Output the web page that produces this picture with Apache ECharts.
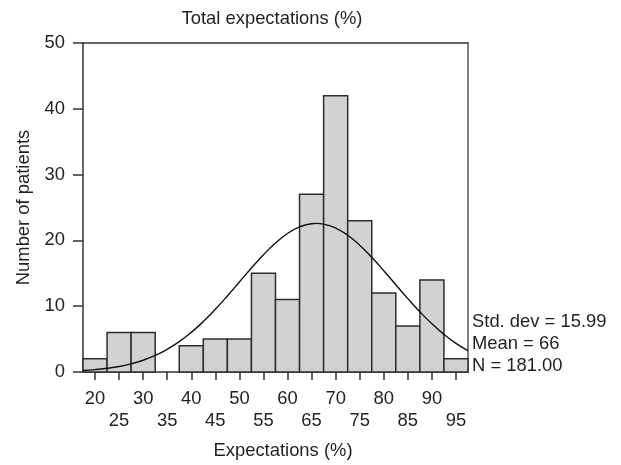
<!DOCTYPE html>
<html>
<head>
<meta charset="utf-8">
<script src="https://cdn.jsdelivr.net/npm/echarts@6/dist/echarts.min.js"></script>
<style>html,body{margin:0;padding:0;background:#fff}#c{width:621px;height:465px}</style>
</head>
<body>
<div id="c"></div>
<script>
// Histogram bins (centres, width 5) and counts
var binCenters = [20, 25, 30, 35, 40, 45, 50, 55, 60, 65, 70, 75, 80, 85, 90, 95];
var binCounts  = [2, 6, 6, 0, 4, 5, 5, 15, 11, 27, 42, 23, 12, 7, 14, 2];
var binWidth = 5;
// Fitted normal curve
var curveX = [17.5, 20, 22.5, 25, 27.5, 30, 32.5, 35, 37.5, 40, 42.5, 45, 47.5, 50, 52.5, 55, 57.5, 60, 62.5, 65, 66, 67.5, 70, 72.5, 75, 77.5, 80, 82.5, 85, 87.5, 90, 92.5, 95, 97.5];
var curveY = [0.23, 0.36, 0.56, 0.84, 1.24, 1.79, 2.52, 3.45, 4.61, 6.02, 7.67, 9.53, 11.56, 13.69, 15.81, 17.82, 19.6, 21.05, 22.05, 22.54, 22.58, 22.48, 21.88, 20.79, 19.27, 17.43, 15.39, 13.26, 11.15, 9.15, 7.32, 5.72, 4.36, 3.25];
var xTicks = [20, 25, 30, 35, 40, 45, 50, 55, 60, 65, 70, 75, 80, 85, 90, 95];
var statsLines = ['Std. dev = 15.99', 'Mean = 66', 'N = 181.00'];
var titleText = 'Total expectations (%)';
var xName = 'Expectations (%)';
var yName = 'Number of patients';

var FONT = 'Liberation Sans, Arial, Helvetica, sans-serif';
var FS = 18.4;
var TXT = '#231f20';
var LINE = '#333333';

var chart = echarts.init(document.getElementById('c'), null, {renderer: 'canvas'});
var histData = binCenters.map(function (c, i) { return [c, binCounts[i]]; });
var curveData = curveX.map(function (x, i) { return [x, curveY[i]]; });

var option = {
  animation: false,
  backgroundColor: '#fff',
  title: {
    text: titleText, left: 267, top: 5, textAlign: 'center',
    textStyle: {fontFamily: FONT, fontSize: FS, fontWeight: 'normal', color: TXT}
  },
  grid: {left: 83, right: 153, top: 43, bottom: 90},
  xAxis: [{
    type: 'value', min: 17.5, max: 97.5,
    name: xName, nameLocation: 'middle', nameGap: 70,
    nameTextStyle: {fontFamily: FONT, fontSize: FS, color: TXT, padding: [0, 0, 0, 15]},
    splitLine: {show: false},
    axisLine: {show: true, onZero: false, lineStyle: {color: LINE, width: 1.5}},
    axisTick: {show: true, inside: false, length: 8, customValues: xTicks, lineStyle: {color: LINE, width: 1.5}},
    axisLabel: {
      customValues: xTicks, margin: 16, fontFamily: FONT, fontSize: FS, color: TXT, lineHeight: 22,
      formatter: function (v) { return (v % 10 === 0) ? String(v) : '\n' + v; }
    }
  }, {
    type: 'value', min: 17.5, max: 97.5, position: 'top',
    axisLine: {show: true, onZero: false, lineStyle: {color: LINE, width: 1.5}},
    axisTick: {show: false}, axisLabel: {show: false}, splitLine: {show: false}
  }],
  yAxis: [{
    type: 'value', min: 0, max: 50, interval: 10,
    name: yName, nameLocation: 'middle', nameGap: 50,
    nameTextStyle: {fontFamily: FONT, fontSize: FS, color: TXT},
    splitLine: {show: false},
    axisLine: {show: true, onZero: false, lineStyle: {color: LINE, width: 1.5}},
    axisTick: {show: true, inside: false, length: 10, lineStyle: {color: LINE, width: 1.5}},
    axisLabel: {margin: 18, fontFamily: FONT, fontSize: FS, color: TXT}
  }, {
    type: 'value', min: 0, max: 50, position: 'right',
    axisLine: {show: true, onZero: false, lineStyle: {color: '#555', width: 1.5}},
    axisTick: {show: false}, axisLabel: {show: false}, splitLine: {show: false}
  }],
  series: [{
    type: 'custom',
    xAxisIndex: 0, yAxisIndex: 0,
    data: histData,
    renderItem: function (params, api) {
      var c = api.value(0), v = api.value(1);
      if (!v) return null;
      var p0 = api.coord([c - binWidth / 2, v]);
      var p1 = api.coord([c + binWidth / 2, 0]);
      return {
        type: 'rect',
        shape: {x: p0[0], y: p0[1], width: p1[0] - p0[0], height: p1[1] - p0[1]},
        style: {fill: '#d1d2d4', stroke: '#2e2e2e', lineWidth: 1.5}
      };
    },
    z: 2
  }, {
    type: 'line',
    xAxisIndex: 0, yAxisIndex: 0,
    data: curveData,
    smooth: true, showSymbol: false, symbol: 'none',
    lineStyle: {color: '#111', width: 1.4},
    z: 3
  }],
  graphic: statsLines.map(function (t, i) {
    return {
      type: 'text', left: 472, top: 313 + i * 22,
      style: {text: t, font: FS + 'px ' + FONT, fill: TXT}
    };
  })
};
chart.setOption(option);
</script>
</body>
</html>
